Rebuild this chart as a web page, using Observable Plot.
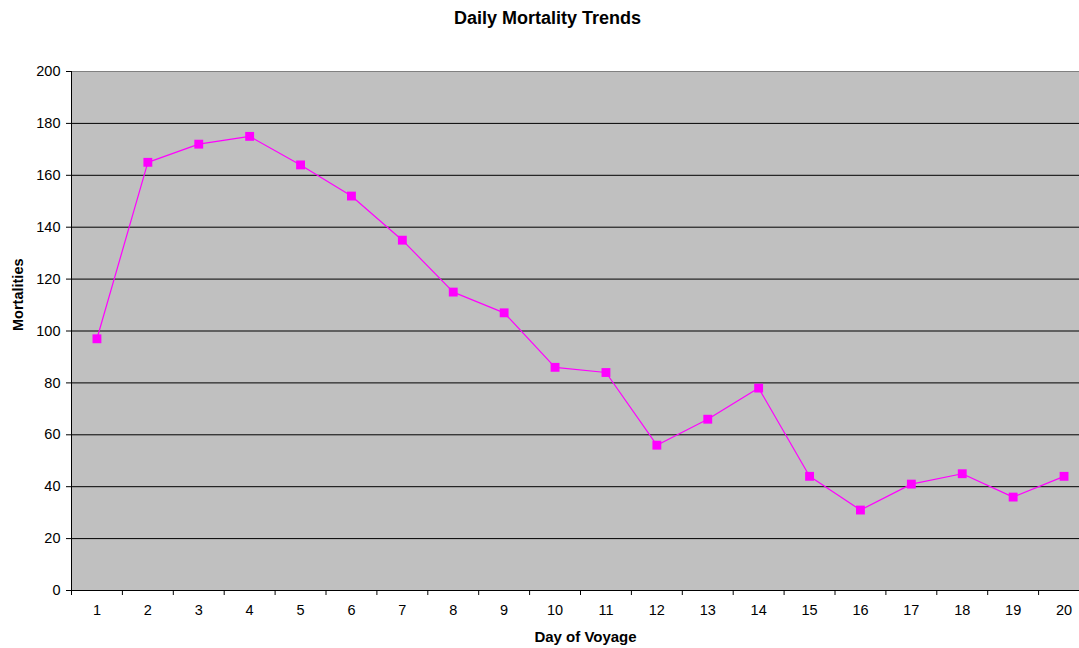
<!DOCTYPE html>
<html>
<head>
<meta charset="utf-8">
<script src="https://cdn.jsdelivr.net/npm/d3@7"></script>
<script src="https://cdn.jsdelivr.net/npm/@observablehq/plot@0.6"></script>
<style>
  html, body { margin: 0; padding: 0; background: #fff; overflow: hidden; }
  #title { width: 1079px; height: 40px; box-sizing: border-box; padding-left: 16px; text-align: center;
    font: bold 18px "Liberation Sans", Arial, sans-serif; line-height: 36px; color: #000; }
  #chart { width: 1079px; overflow: hidden; }
</style>
</head>
<body>
<div id="title">Daily Mortality Trends</div>
<div id="chart"></div>
<script>
const days = [1,2,3,4,5,6,7,8,9,10,11,12,13,14,15,16,17,18,19,20];
const mortalities = [97,165,172,175,164,152,135,115,107,86,84,56,66,78,44,31,41,45,36,44];
const yTicks = [0,20,40,60,80,100,120,140,160,180,200];
const gridTicks = [20,40,60,80,100,120,140,160,180];
const boundaries = d3.range(days.length + 1).map(i => i + 0.5);

const data = days.map((d, i) => ({day: d, value: mortalities[i]}));

const chart = Plot.plot({
  width: 1079,
  height: 608,
  marginLeft: 71,
  marginRight: -10,
  marginTop: 31,
  marginBottom: 58,
  style: {fontFamily: '"Liberation Sans", Arial, sans-serif', fontSize: "14.5px", color: "#000", background: "#fff"},
  x: {type: "linear", domain: [0.5, days.length + 0.5]},
  y: {domain: [0, 200]},
  marks: [
    Plot.frame({fill: "#C0C0C0", stroke: null}),
    Plot.ruleY(gridTicks, {stroke: "#000", strokeWidth: 1}),
    Plot.ruleY([200], {stroke: "#808080", strokeWidth: 1}),
    Plot.ruleX([0.5], {stroke: "#000", strokeWidth: 1}),
    Plot.ruleY([0], {stroke: "#000", strokeWidth: 1}),
    Plot.axisY({ticks: yTicks, tickSize: 5, tickPadding: 6, label: null, fontSize: 14.5}),
    Plot.axisX({ticks: days, tickSize: 0, tickPadding: 14, label: null, fontSize: 14.5, tickFormat: d => String(d)}),
    Plot.axisX({ticks: boundaries, tickSize: 5, tickFormat: () => "", label: null}),
    Plot.line(data, {x: "day", y: "value", stroke: "#FF00FF", strokeWidth: 1.2}),
    Plot.dot(data, {x: "day", y: "value", symbol: "square", r: 5, fill: "#FF00FF", stroke: null}),
    Plot.text(["Mortalities"], {frameAnchor: "left", rotate: -90, dx: -53, fontWeight: "bold", fontSize: 14.5}),
    Plot.text(["Day of Voyage"], {frameAnchor: "bottom", dy: 51, dx: 5, fontWeight: "bold", fontSize: 15})
  ]
});
document.getElementById("chart").appendChild(chart);
</script>
</body>
</html>
